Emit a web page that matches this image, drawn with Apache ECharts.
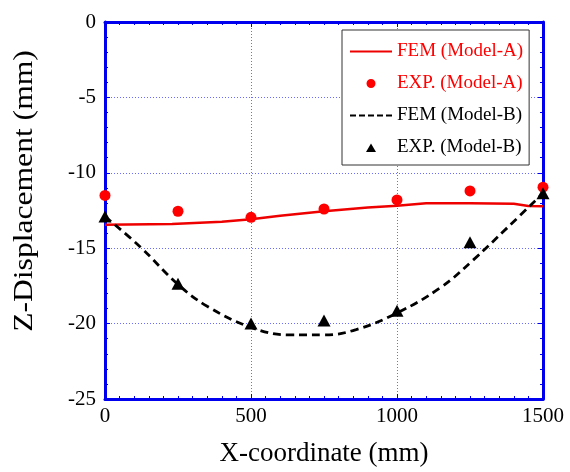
<!DOCTYPE html>
<html>
<head>
<meta charset="utf-8">
<script src="https://cdn.jsdelivr.net/npm/echarts@6/dist/echarts.min.js"></script>
<style>
html,body{margin:0;padding:0;background:#fff;}
#main{width:570px;height:472px;}
</style>
</head>
<body>
<div id="main"></div>
<script>
// experiment points (x in mm)
var expX = [0, 250, 500, 750, 1000, 1250, 1500];
var expA = [-11.5, -12.55, -12.95, -12.4, -11.8, -11.2, -10.95];
var expB = [-12.9, -17.35, -20.0, -19.8, -19.15, -14.6, -11.35];

// FEM curves
var femAX = [0, 230, 400, 500, 600, 750, 900, 1000, 1100, 1250, 1400, 1450, 1500];
var femAY = [-13.45, -13.4, -13.25, -13.08, -12.85, -12.55, -12.3, -12.18, -12.02, -12.02, -12.05, -12.2, -12.22];
var femBX = [0, 120, 250, 350, 500, 630, 750, 860, 1000, 1150, 1260, 1380, 1500];
var femBY = [-12.9, -14.9, -17.4, -18.85, -20.25, -20.75, -20.75, -20.4, -19.3, -17.6, -15.8, -13.6, -11.35];

var names = ['FEM (Model-A)', 'EXP. (Model-A)', 'FEM (Model-B)', 'EXP. (Model-B)'];

function pairs(xs, ys){
	var out = [];
	for(var i=0;i<xs.length;i++){
		out.push([xs[i], ys[i]]);
	}
	return out;
}

var font = '"Liberation Serif", "Times New Roman", serif';
var blue = '#0000ee';
var gridBlue = '#6b6bff';

// legend icons, 42x10 box (tiny corner dots fix the bounds)
var box = 'M0,0h0.01v0.01h-0.01zM41.99,9.99h0.01v0.01h-0.01z';
var iconSolid = 'path://' + box + 'M0,4h42v2h-42z';
var iconDash = 'path://' + box + 'M0,4h6v2h-6zM9,4h6v2h-6zM18,4h6v2h-6zM27,4h6v2h-6zM36,4h6v2h-6z';
var iconDot = 'path://' + box + 'M16.5,5a4.5,4.5 0 1,0 9,0a4.5,4.5 0 1,0 -9,0z';
var iconTri = 'path://' + box + 'M21,1L26,9.5L16,9.5z';

var chart = echarts.init(document.getElementById('main'));

function frameAxis(extra){
	var a = {
		axisLine: {show: true, onZero: false, lineStyle: {color: blue, width: 3}},
		axisTick: {show: true, inside: true, length: 5, lineStyle: {color: blue, width: 1}},
		splitLine: {show: false}
	};
	return Object.assign(a, extra);
}

chart.setOption({
	animation: false,
	backgroundColor: '#fff',
	grid: {left: 105, right: 27, top: 22, bottom: 72},
	legend: {
		orient: 'vertical',
		left: 342,
		top: 30,
		padding: [12, 6, 8, 8],
		itemGap: 13,
		itemWidth: 42,
		itemHeight: 10,
		borderColor: '#333',
		borderWidth: 1,
		borderRadius: 0,
		backgroundColor: '#fff',
		textStyle: {fontFamily: font, fontSize: 19},
		data: [
			{name: names[0], icon: iconSolid, textStyle: {color: '#ff0000'}},
			{name: names[1], icon: iconDot, textStyle: {color: '#ff0000'}},
			{name: names[2], icon: iconDash, textStyle: {color: '#000'}},
			{name: names[3], icon: iconTri, textStyle: {color: '#000'}}
		]
	},
	graphic: [{
		type: 'text',
		x: 25, y: 191,
		rotation: Math.PI / 2,
		scaleX: 1.17,
		style: {
			text: 'Z-Displacement (mm)',
			font: '27px ' + font,
			fill: '#000',
			align: 'center',
			verticalAlign: 'middle'
		}
	}],
	xAxis: [
		frameAxis({
			type: 'value', min: 0, max: 1500, interval: 500,
			minorTick: {show: true, splitNumber: 10, length: 3, lineStyle: {color: blue}},
			name: 'X-coordinate (mm)', nameLocation: 'middle', nameGap: 41,
			nameTextStyle: {fontFamily: font, fontSize: 27, color: '#000'},
			axisLabel: {fontFamily: font, fontSize: 21, color: '#000', margin: 7, formatter: function(v){ return String(v); }},
			splitLine: {show: true, lineStyle: {color: gridBlue, type: [1, 2], width: 1}}
		}),
		frameAxis({
			type: 'value', min: 0, max: 1500, interval: 500, position: 'top',
			minorTick: {show: true, splitNumber: 10, length: 3, lineStyle: {color: blue}},
			axisLabel: {show: false}
		})
	],
	yAxis: [
		frameAxis({
			type: 'value', min: -25, max: 0, interval: 5,
			minorTick: {show: true, splitNumber: 5, length: 3, lineStyle: {color: blue}},
			axisLabel: {fontFamily: font, fontSize: 21, color: '#000', margin: 9},
			splitLine: {show: true, lineStyle: {color: gridBlue, type: [1, 2], width: 1}}
		}),
		frameAxis({
			type: 'value', min: -25, max: 0, interval: 5, position: 'right',
			minorTick: {show: true, splitNumber: 5, length: 3, lineStyle: {color: blue}},
			axisLabel: {show: false}
		})
	],
	series: [
		{
			name: names[0], type: 'line', symbol: 'none', z: 3,
			lineStyle: {color: '#ee0000', width: 2.5},
			itemStyle: {color: '#ee0000'},
			data: pairs(femAX, femAY)
		},
		{
			name: names[1], type: 'scatter', symbol: 'circle', symbolSize: 11, z: 4,
			itemStyle: {color: '#ff0000', opacity: 1},
			data: pairs(expX, expA)
		},
		{
			name: names[2], type: 'line', symbol: 'none', smooth: 0.4, z: 3,
			lineStyle: {color: '#000', width: 2.8, type: [8, 5]},
			itemStyle: {color: '#000'},
			data: pairs(femBX, femBY)
		},
		{
			name: names[3], type: 'scatter', symbol: 'triangle', symbolSize: [13, 12], z: 4,
			itemStyle: {color: '#000', opacity: 1},
			data: pairs(expX, expB)
		}
	]
});
</script>
</body>
</html>
